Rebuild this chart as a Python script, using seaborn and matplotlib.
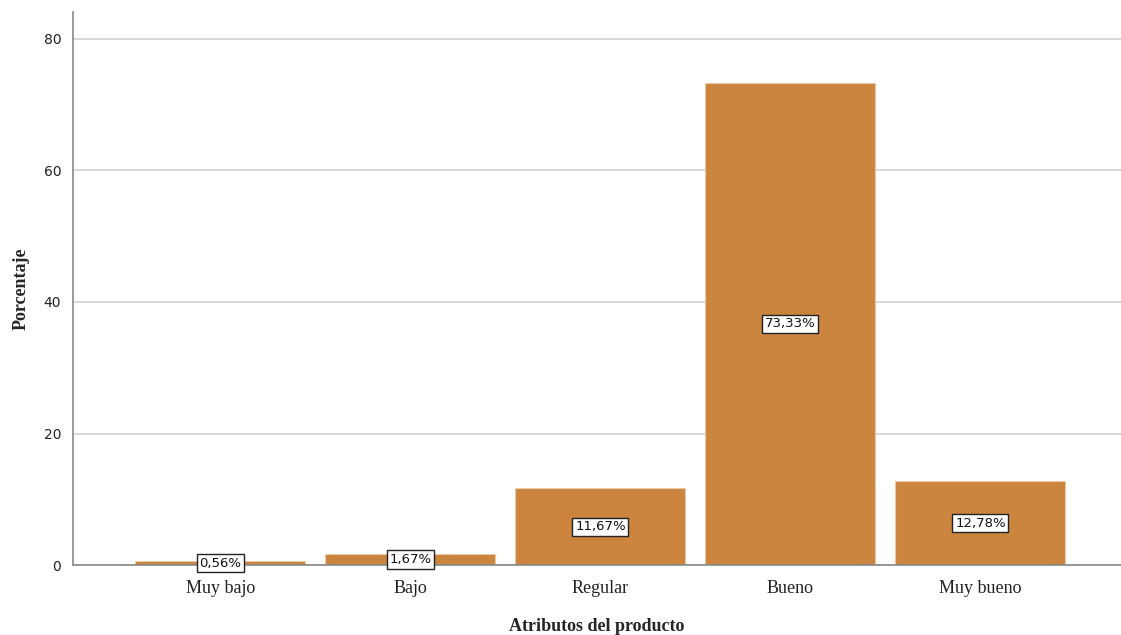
import matplotlib
matplotlib.use("Agg")
import matplotlib.pyplot as plt
import seaborn as sns
import pandas as pd

categorias = ["Muy bajo", "Bajo", "Regular", "Bueno", "Muy bueno"]
porcentajes = [0.56, 1.67, 11.67, 73.33, 12.78]
etiquetas = ["0,56%", "1,67%", "11,67%", "73,33%", "12,78%"]
ticks_y = [0, 20, 40, 60, 80]

sns.set_style("white")

df = pd.DataFrame({"Atributos del producto": categorias, "Porcentaje": porcentajes})

fig = plt.figure(figsize=(11.21, 6.35), dpi=100)
ax = fig.add_axes([0.0651, 0.1102, 0.9349, 0.8709])
ax.set_axisbelow(True)

sns.barplot(data=df, x="Atributos del producto", y="Porcentaje", color="#CB853F",
            saturation=1, width=0.895, edgecolor="#EBC9A5", linewidth=0.8, ax=ax)

ax.set_xlim(-0.776, 4.74)
ax.set_ylim(0, 84.1)
ax.set_yticks(ticks_y)
ax.yaxis.grid(True, color="#D0D0D0", linewidth=1.2)

for i, (v, txt) in enumerate(zip(porcentajes, etiquetas)):
    ax.text(i, v / 2, txt, ha="center", va="center", fontsize=9.5,
            family="DejaVu Sans", color="#111111",
            bbox=dict(boxstyle="square,pad=0.2", facecolor="white",
                      edgecolor="#222222", linewidth=1))

for s in ["top", "right"]:
    ax.spines[s].set_visible(False)
ax.spines["left"].set_color("#888888")
ax.spines["bottom"].set_color("#888888")
ax.spines["left"].set_linewidth(1.2)
ax.spines["bottom"].set_linewidth(1.2)

ax.tick_params(axis="x", length=0, pad=11)
ax.tick_params(axis="y", length=5, color="#888888", labelsize=10, labelcolor="#222222")
for lbl in ax.get_xticklabels():
    lbl.set_family("Liberation Serif")
    lbl.set_fontsize(13)
    lbl.set_color("#222222")
for lbl in ax.get_yticklabels():
    lbl.set_family("DejaVu Sans")

ax.set_xlabel("Atributos del producto", family="Liberation Serif", fontsize=13,
              fontweight="bold", labelpad=15)
ax.set_ylabel("Porcentaje", family="Liberation Serif", fontsize=13,
              fontweight="bold", labelpad=10)

fig.savefig("out.png", dpi=100)
